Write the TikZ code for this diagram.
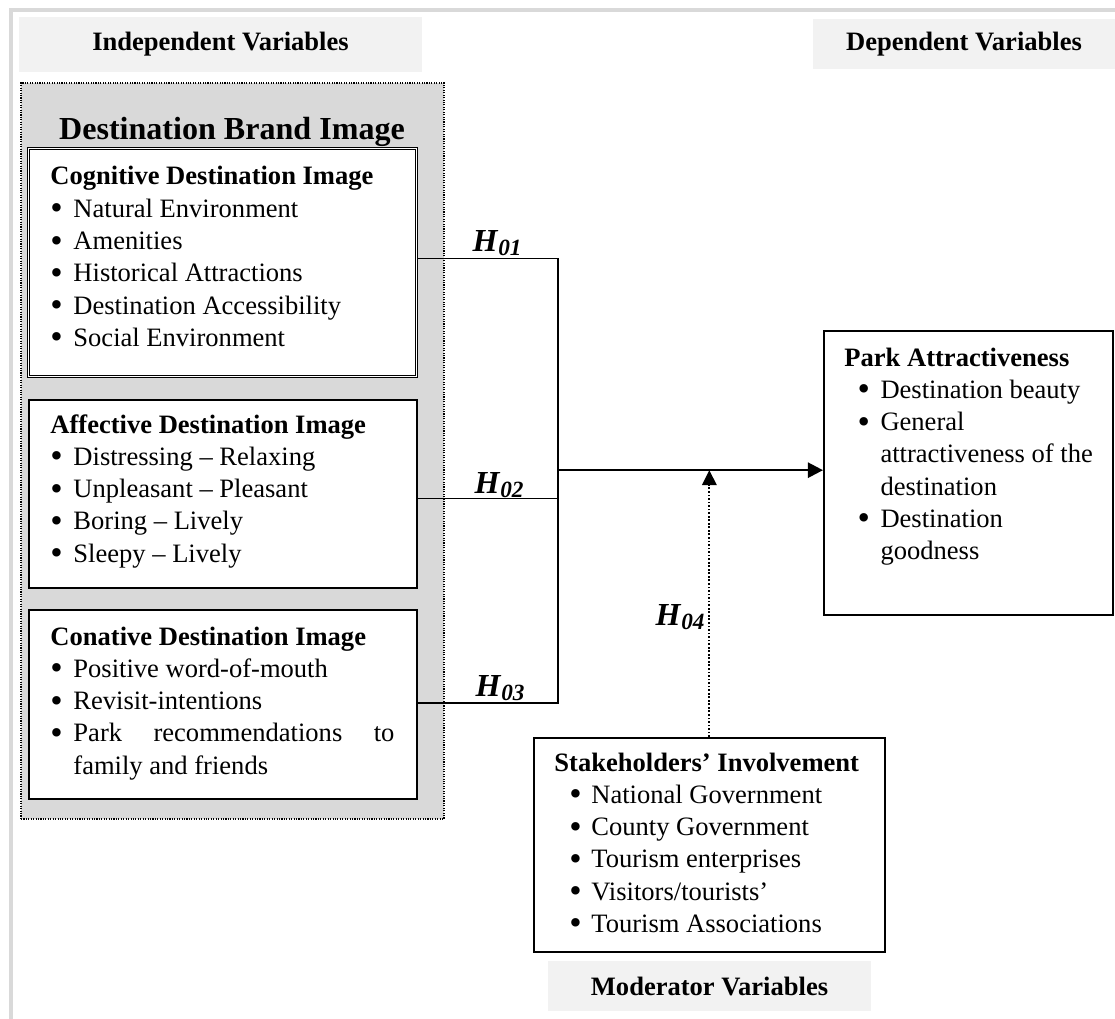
\documentclass[tikz,border=0pt]{standalone}
\usepackage{fontspec}
\setmainfont{Liberation Serif}
\usetikzlibrary{arrows.meta}
\definecolor{framegray}{HTML}{D9D9D9}
\definecolor{labelgray}{HTML}{F2F2F2}
\definecolor{brandgray}{HTML}{D9D9D9}
\newcommand{\pxu}{0.452pt}
\newcommand{\nohyph}{\hyphenpenalty=10000\relax\exhyphenpenalty=10000\relax}
\newcommand{\bigbul}{\raisebox{-1.1pt}{\fontsize{16}{16}\selectfont\textbullet}}
\newcommand{\bitem}[3]{\par\noindent\hangindent=#2\relax\hangafter=1\relax\makebox[#2][l]{\hspace{#1}\bigbul}#3\par}
\newcommand{\hyplabel}[1]{\textbf{\textit{H}}\raisebox{-1.6pt}{\fontsize{10.5}{10.5}\selectfont\bfseries\itshape #1}}
\tikzset{
  frameline/.style={draw=framegray, line width=1.8pt},
  varlabel/.style={fill=labelgray, inner sep=0pt, font=\fontsize{12}{14}\selectfont\bfseries},
  itembox/.style={draw=black, line width=0.75pt, fill=white, anchor=north west, inner sep=0pt},
  itemtext/.style={anchor=base west, inner sep=0pt, font=\fontsize{12}{14.6}\selectfont},
  hyp/.style={inner sep=0pt, font=\fontsize{14.5}{15}\selectfont},
  link/.style={line width=0.7pt},
  mainarrow/.style={line width=1.1pt, -{Triangle[length=6.8pt,width=6.8pt]}},
  modarrow/.style={line width=0.8pt, dash pattern=on 0.8pt off 0.8pt, -{Triangle[length=6.8pt,width=6.6pt]}},
}
\begin{document}
\begin{tikzpicture}[x=0.452pt, y=-0.452pt]
\useasboundingbox (0,0) rectangle (1115,1019);
% outer frame
\draw[frameline] (11,1019) -- (11,10) -- (1115,10);
% variable labels
\node[varlabel, minimum width=403*\pxu, minimum height=55*\pxu] (indep) at (220.5,44.5) {Independent Variables};
\node[varlabel, minimum width=302*\pxu, minimum height=50*\pxu] (dep) at (964,44) {Dependent Variables};
\node[varlabel, minimum width=323*\pxu, minimum height=50*\pxu] (moder) at (709.5,986) {Moderator Variables};
% brand image container
\node[draw=black, fill=brandgray, line width=0.9pt, dash pattern=on 0.5pt off 0.6pt, anchor=north west, inner sep=0pt,
      minimum width=423*\pxu, minimum height=736*\pxu] (brand) at (20,82) {};
\node[anchor=base, inner sep=0pt, font=\fontsize{14.5}{16}\selectfont\bfseries] (brandtitle) at (232,140) {Destination Brand Image};
% boxes
\node[itembox, double, double distance=0.6pt, line width=0.5pt, minimum width=388*\pxu, minimum height=228*\pxu] (cog) at (28,148) {};
\node[itembox, minimum width=388*\pxu, minimum height=188*\pxu] (aff) at (28,399) {};
\node[itembox, minimum width=388*\pxu, minimum height=189*\pxu] (con) at (28,609) {};
\node[itembox, minimum width=289*\pxu, minimum height=284*\pxu] (park) at (823,330) {};
\node[itembox, minimum width=351*\pxu, minimum height=214*\pxu] (stake) at (533,737) {};
% texts
\node[itemtext, text width=344*\pxu, align=justify] (cogtext) at (50,185) {\nohyph
\textbf{Cognitive Destination Image}%
\bitem{0pt}{10.4pt}{Natural Environment}%
\bitem{0pt}{10.4pt}{Amenities}%
\bitem{0pt}{10.4pt}{Historical Attractions}%
\bitem{0pt}{10.4pt}{Destination Accessibility}%
\bitem{0pt}{10.4pt}{Social Environment}};
\node[itemtext, text width=344*\pxu, align=justify] (afftext) at (50,433) {\nohyph
\textbf{Affective Destination Image}%
\bitem{0pt}{10.4pt}{Distressing – Relaxing}%
\bitem{0pt}{10.4pt}{Unpleasant – Pleasant}%
\bitem{0pt}{10.4pt}{Boring – Lively}%
\bitem{0pt}{10.4pt}{Sleepy – Lively}};
\node[itemtext, text width=344*\pxu, align=justify] (context) at (50,645) {\nohyph
\textbf{Conative Destination Image}%
\bitem{0pt}{10.4pt}{Positive word-of-mouth}%
\bitem{0pt}{10.4pt}{Revisit-intentions}%
\bitem{0pt}{10.4pt}{Park recommendations to family and friends}};
\node[itemtext, text width=256*\pxu, align=justify] (parktext) at (844,366) {\nohyph\raggedright
\textbf{Park Attractiveness}%
\bitem{5.9pt}{16.3pt}{Destination beauty}%
\bitem{5.9pt}{16.3pt}{General attractiveness of the destination}%
\bitem{5.9pt}{16.3pt}{Destination goodness}};
\node[itemtext, text width=320*\pxu, align=justify] (staketext) at (554,771) {\nohyph\raggedright
\textbf{Stakeholders’ Involvement}%
\bitem{6.8pt}{16.7pt}{National Government}%
\bitem{6.8pt}{16.7pt}{County Government}%
\bitem{6.8pt}{16.7pt}{Tourism enterprises}%
\bitem{6.8pt}{16.7pt}{Visitors/tourists’}%
\bitem{6.8pt}{16.7pt}{Tourism Associations}};
% connectors
\coordinate (jx) at (558,0);
\coordinate (j) at ([yshift=1.2pt]park.west -| jx);
\draw[link] ([yshift=1.8pt]cog.east) -| (j);
\draw[link] ([yshift=-2.2pt]aff.east) -| (j);
\draw[link] ([yshift=0.6pt]con.east) -| (j);
\draw[mainarrow] (j) -- (j -| park.west);
\draw[modarrow] (stake.north) -- (stake.north |- j);
% hypothesis labels
\node[hyp] (h1) at (497,243) {\hyplabel{01}};
\node[hyp] (h2) at (499,485) {\hyplabel{02}};
\node[hyp] (h3) at (500,688) {\hyplabel{03}};
\node[hyp] (h4) at (680,617) {\hyplabel{04}};
\end{tikzpicture}
\end{document}
